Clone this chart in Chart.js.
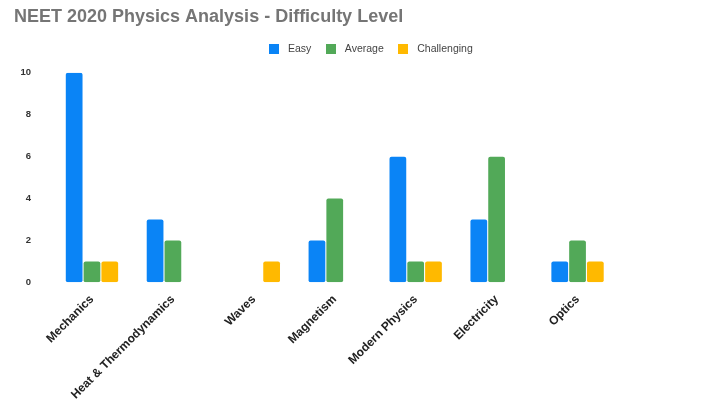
<!DOCTYPE html>
<html lang="en">
<head>
  <meta charset="UTF-8" />
  <title>NEET 2020 Physics Analysis - Difficulty Level</title>
  <script src="https://cdn.jsdelivr.net/npm/chart.js"></script>
  <style>
    body { margin: 0; background: #fff; }
    .wrap { width: 707px; height: 413px; position: relative; }
  </style>
</head>
<body>
  <div class="wrap">
    <canvas id="barChart"></canvas>
  </div>
  <script>
    // Data
    const topics = ['Mechanics', 'Heat & Thermodynamics', 'Waves', 'Magnetism', 'Modern Physics', 'Electricity', 'Optics'];
    const easy = [10, 3, null, 2, 6, 3, 1];
    const average = [1, 2, null, 4, 1, 6, 2];
    const challenging = [1, null, 1, null, 1, null, 1];
    const yTicks = [0, 2, 4, 6, 8, 10];

    const colors = ['#0a84f6', '#52a958', '#ffb900'];

    Chart.defaults.font.family = "'Liberation Sans', Arial, sans-serif";

    // small square used as legend marker (leaves a wider gap before the text)
    function makeBox(color) {
      const c = document.createElement('canvas');
      c.width = 10;
      c.height = 10;
      const g = c.getContext('2d');
      g.fillStyle = color;
      g.fillRect(0, 0, 10, 10);
      return c;
    }
    const legendBoxes = colors.map(makeBox);

    // extra room under the legend + move it to the right
    const legendTweak = {
      id: 'legendTweak',
      beforeInit(chart) {
        const origFit = chart.legend.fit;
        chart.legend.fit = function () {
          origFit.call(this);
          this.height += 8.75;
        };
      },
      afterLayout(chart) {
        chart.legend.left += 53;
        chart.legend.right += 53;
      }
    };

    const barStyle = {
      borderRadius: 2,
      borderSkipped: false,
      categoryPercentage: 0.66,
      barPercentage: 0.94
    };

    const ctx = document.getElementById('barChart').getContext('2d');
    new Chart(ctx, {
      type: 'bar',
      data: {
        labels: topics,
        datasets: [
          { label: 'Easy', data: easy, backgroundColor: colors[0], ...barStyle },
          { label: 'Average', data: average, backgroundColor: colors[1], ...barStyle },
          { label: 'Challenging', data: challenging, backgroundColor: colors[2], ...barStyle }
        ]
      },
      plugins: [legendTweak],
      options: {
        responsive: true,
        maintainAspectRatio: false,
        animation: false,
        layout: { padding: { left: 14, right: 89, bottom: 9 } },
        plugins: {
          title: {
            display: true,
            text: 'NEET 2020 Physics Analysis - Difficulty Level',
            align: 'start',
            color: '#757575',
            font: { size: 18, weight: 'bold' },
            padding: { top: 6, bottom: 5.25 }
          },
          legend: {
            labels: {
              usePointStyle: true,
              pointStyleWidth: 17.5,
              boxHeight: 10,
              color: '#444',
              font: { size: 10.5 },
              padding: 10.75,
              generateLabels: (chart) =>
                Chart.defaults.plugins.legend.labels.generateLabels(chart)
                  .map((item, i) => ({ ...item, pointStyle: legendBoxes[i] }))
            }
          },
          tooltip: { enabled: false }
        },
        scales: {
          x: {
            grid: { display: false },
            border: { display: false },
            afterFit: (scale) => { scale.paddingLeft = 0; },
            ticks: {
              color: '#222',
              font: { size: 12, weight: 'bold' },
              maxRotation: 45,
              minRotation: 45,
              padding: 2
            }
          },
          y: {
            min: yTicks[0],
            max: yTicks[yTicks.length - 1],
            grid: { display: false },
            border: { display: false },
            afterBuildTicks: (axis) => { axis.ticks = yTicks.map(v => ({ value: v })); },
            afterFit: (scale) => { scale.width = 37.5; },
            ticks: {
              color: '#333',
              font: { size: 9.5, weight: 'bold' },
              padding: 12.5
            }
          }
        }
      }
    });
  </script>
</body>
</html>
